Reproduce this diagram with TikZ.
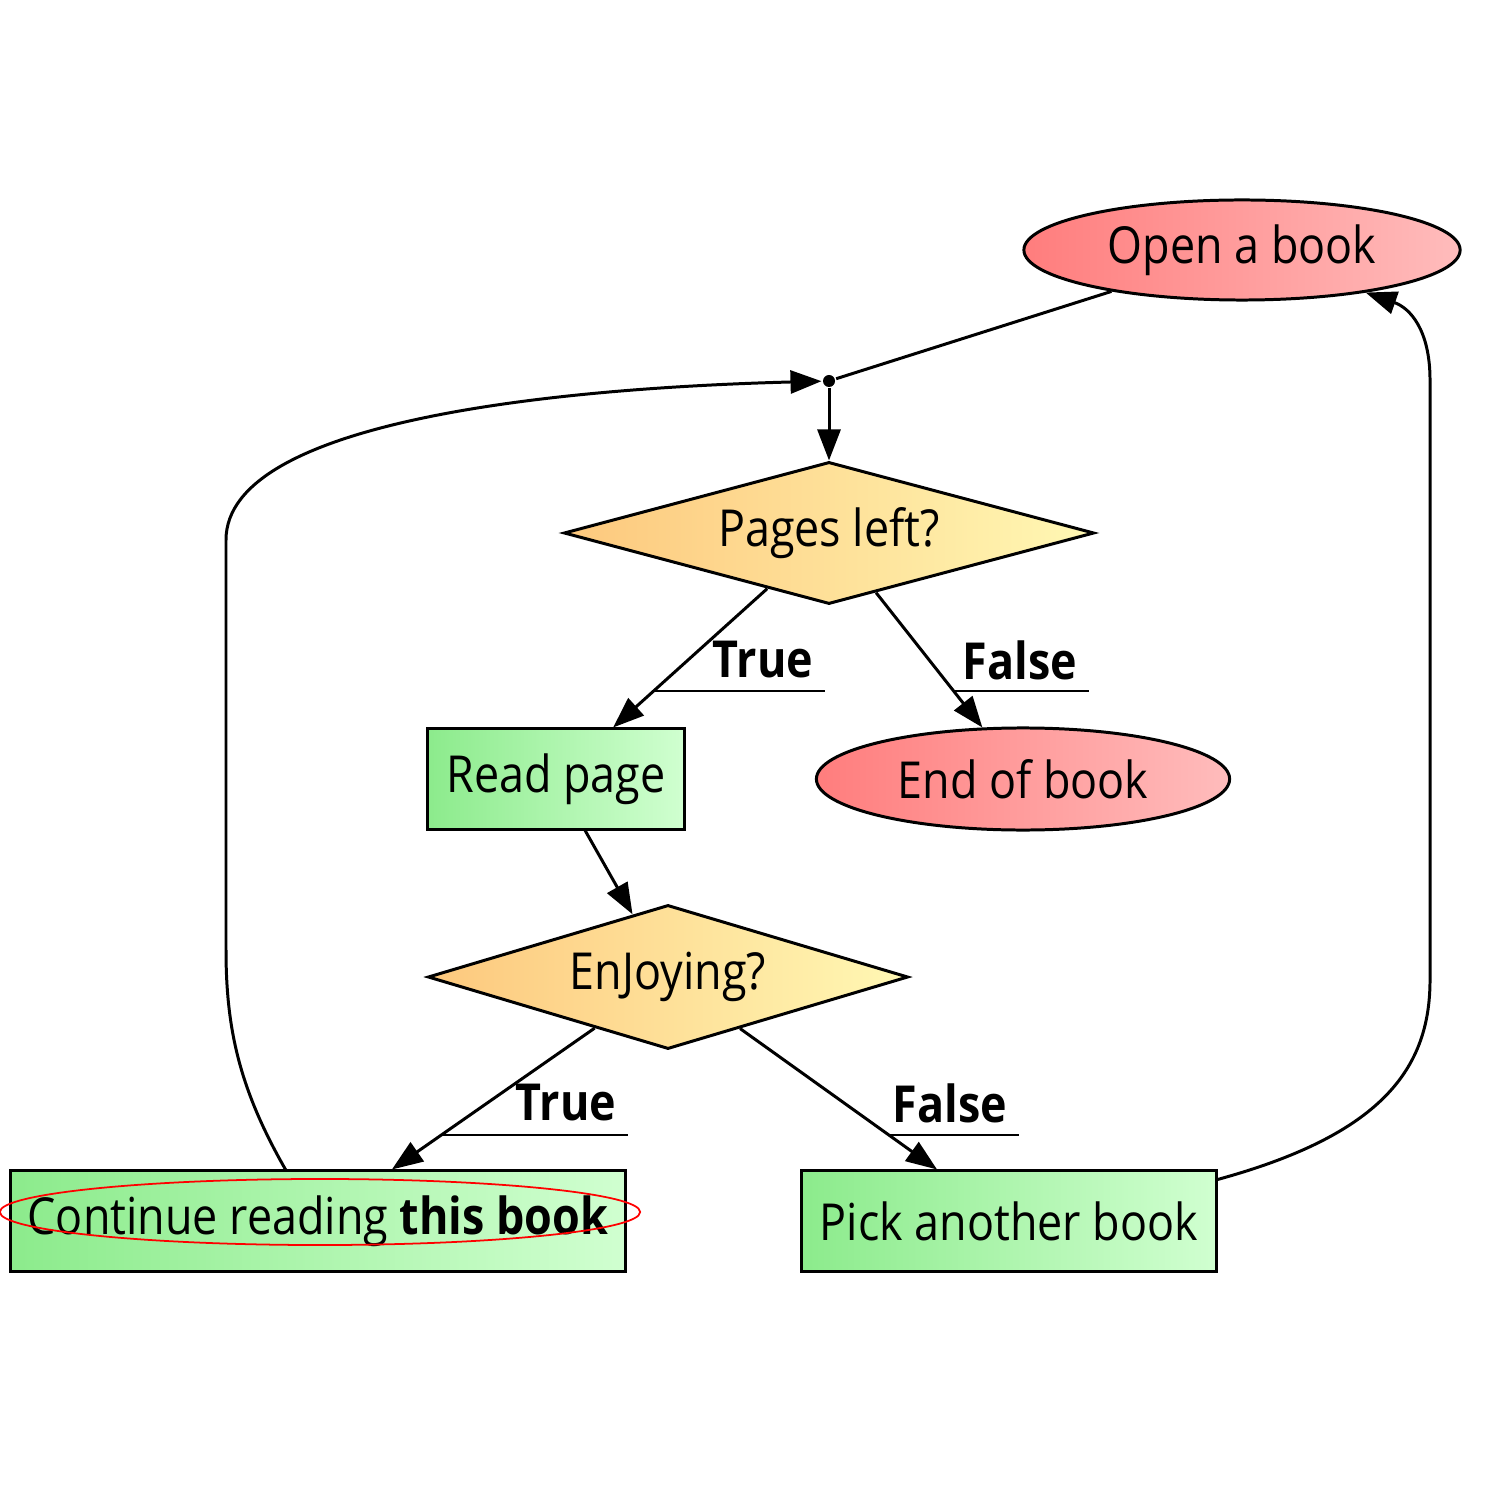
\documentclass[tikz,border=0pt]{standalone}
\usepackage{fontspec}
\setmainfont{Open Sans}[FakeStretch=0.88]
\usetikzlibrary{shapes.geometric,arrows.meta,calc}
\definecolor{redL}{RGB}{255,125,125}
\definecolor{redR}{RGB}{255,188,188}
\definecolor{yelL}{RGB}{253,200,125}
\definecolor{yelR}{RGB}{255,248,180}
\definecolor{grnL}{RGB}{140,235,140}
\definecolor{grnR}{RGB}{208,255,208}
\newcommand{\flowfont}{\fontsize{14.5}{17}\selectfont}

\begin{document}
\begin{tikzpicture}[x=0.01cm, y=-0.01cm, font=\flowfont, line width=0.85pt,
  >={Triangle[length=0.31cm,width=0.23cm]},
  term/.style={ellipse, draw, left color=redL, right color=redR, inner sep=0pt},
  test/.style={diamond, aspect=5, draw, left color=yelL, right color=yelR, inner sep=0pt},
  act/.style={rectangle, draw, left color=grnL, right color=grnR, minimum height=1.0cm, inner sep=0pt},
  lbl/.style={font=\flowfont\bfseries, inner xsep=0.1cm, inner ysep=0pt}]
\useasboundingbox (0,0) rectangle (1486,1486);
% nodes
\node[term, minimum width=4.36cm, minimum height=1.0cm] (open) at (1242,250) {Open a book};
\node[circle, fill, inner sep=0pt, minimum size=0.12cm] (j) at (829,381) {};
\node[test, minimum width=5.3cm, minimum height=1.42cm] (pl) at (829,533) {Pages left?};
\node[act, minimum width=2.57cm] (rp) at (556,779) {Read page};
\node[term, minimum width=4.13cm, minimum height=1.02cm] (end) at (1023,779) {End of book};
\node[test, minimum width=4.8cm, minimum height=1.44cm] (enj) at (668,977) {EnJoying?};
\node[act, minimum width=6.14cm] (cont) at (318,1221) {Continue reading \textbf{this book}};
\node[act, minimum width=4.14cm] (pick) at (1009,1221) {Pick another book};
\node[ellipse, draw=red, line width=0.5pt, inner sep=0pt,
  minimum width=6.4cm, minimum height=0.66cm] (hilite) at (320,1212) {};
% labels
\node[lbl] (t1) at (763,660) {True};
\node[lbl] (f1) at (1020,660) {False};
\node[lbl] (t2) at (566,1103) {True};
\node[lbl] (f2) at (950,1103) {False};
% edges
\draw (open) -- (j);
\draw[->] (j) -- (pl);
\draw[->] (pl) -- (rp);
\draw[->] (pl) -- (end);
\draw[->] (rp) -- (enj);
\draw[->] (enj) -- (cont);
\draw[->] (enj) -- (pick);
\draw[->] ([xshift=2.76cm]cont.north west) .. controls (240,1090) and (226,1030) .. (226,950)
  -- (226,540) .. controls (226,420) and (560,388) .. (j);
\draw[->] ([yshift=-0.1cm]pick.north east) .. controls (1380,1135) and (1430,1070) .. (1430,980)
  -- (1430,380) .. controls (1430,330) and (1410,308) .. (open.-19);
% underlines
\coordinate (u1) at ($(pl)!0.642!(rp)$);
\coordinate (u2) at ($(pl)!0.642!(end)$);
\coordinate (u3) at ($(enj)!0.648!(cont)$);
\coordinate (u4) at ($(enj)!0.648!(pick)$);
\draw[line width=0.7pt] (u1) -- (u1 -| t1.east);
\draw[line width=0.7pt] (u2) -- (u2 -| f1.east);
\draw[line width=0.7pt] (u3) -- (u3 -| t2.east);
\draw[line width=0.7pt] (u4) -- (u4 -| f2.east);
\end{tikzpicture}
\end{document}
